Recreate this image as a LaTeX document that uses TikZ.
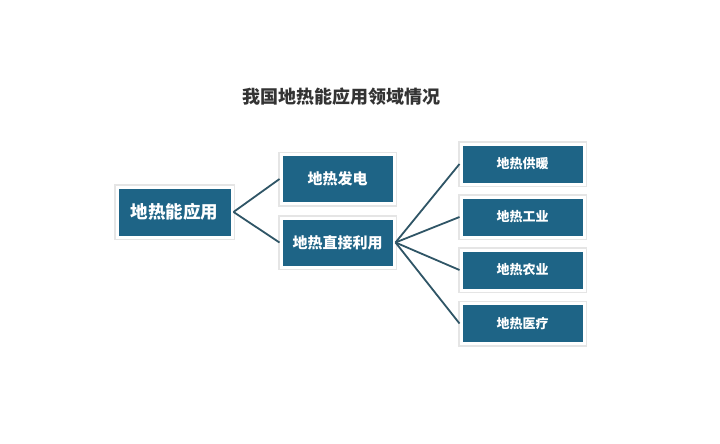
\documentclass[tikz,border=0pt]{standalone}
\usepackage{fontspec}
\newfontfamily\cjk{Noto Sans CJK SC}
\usepackage{tikz}
\usetikzlibrary{positioning}

\definecolor{boxblue}{HTML}{1E6486}
\definecolor{linkgray}{HTML}{2F5566}

\tikzset{
  areabox/.style={rectangle, fill=boxblue, draw=white, line width=3pt,
    text=white, font=\cjk\bfseries, inner sep=0pt,
    preaction={draw=black!10, line width=6pt}},
  rootbox/.style={areabox, minimum width=115pt, minimum height=50pt, font=\cjk\bfseries\fontsize{17.5}{17.5}\selectfont},
  midbox/.style={areabox, minimum width=113pt, minimum height=49pt, font=\cjk\bfseries\fontsize{15}{15}\selectfont},
  leafbox/.style={areabox, minimum width=123pt, minimum height=40pt, font=\cjk\bfseries\fontsize{13}{13}\selectfont},
  link/.style={draw=linkgray, line width=1.8pt}
}

\begin{document}
\begin{tikzpicture}[x=1pt, y=-1pt]
		% canvas
		\fill[white] (0,0) rectangle (720,444);
		\useasboundingbox (0,0) rectangle (720,444);
		% title
		\node[font=\cjk\bfseries\fontsize{18}{18}\selectfont, text=black!80](T) at (341,97){我国地热能应用领域情况};
		% boxes
		\node[rootbox](R) at (174.5,212){地热能应用};
		\node[midbox](M1) at (337.5,179){地热发电};
		\node[midbox](M2) at (337.5,242.5){地热直接利用};
		\node[leafbox](L1) at (522.5,164){地热供暖};
		\node[leafbox](L2) at (522.5,217){地热工业};
		\node[leafbox](L3) at (522.5,270){地热农业};
		\node[leafbox](L4) at (522.5,323.5){地热医疗};
		% connectors
		\draw[link] (R.east) -- (M1.west);
		\draw[link] (R.east) -- (M2.west);
		\foreach \n in {L1, L2, L3, L4}
			\draw[link] (M2.east) -- (\n.west);
	\end{tikzpicture}
\end{document}
